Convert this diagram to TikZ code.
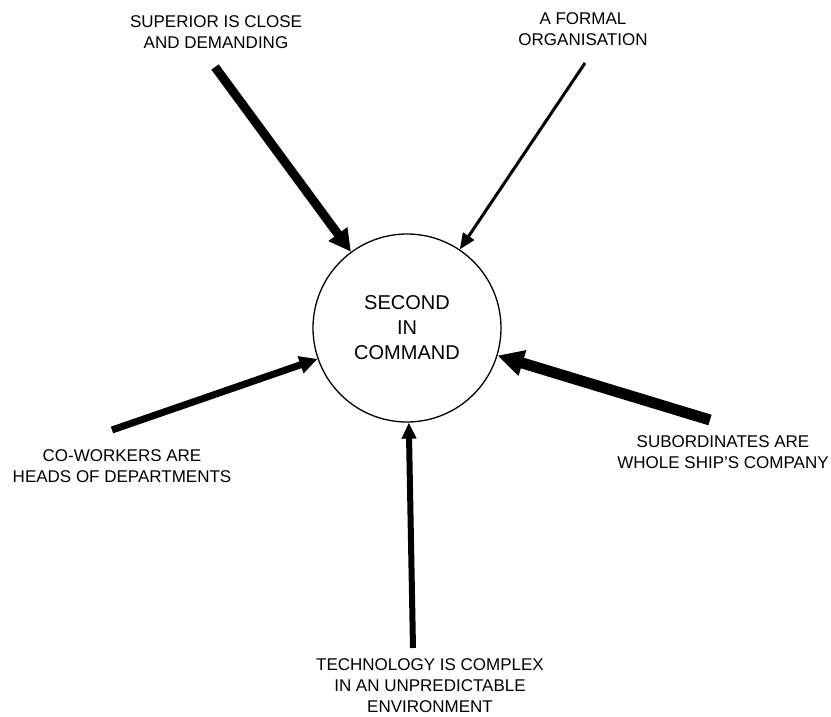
\documentclass[tikz,border=0pt]{standalone}
\usepackage{fontspec}
\setmainfont{Liberation Sans}
\usetikzlibrary{arrows.meta, positioning}
\tikzset{
	lbl/.style={align=center, inner sep=0pt, font=\fontsize{17}{21}\selectfont},
	hub/.style={circle, draw, line width=1.3pt, minimum size=188pt, inner sep=0pt, align=center, font=\fontsize{20}{25}\selectfont}
}

\begin{document}
\begin{tikzpicture}[x=1pt, y=-1pt]
		\useasboundingbox (0,0) rectangle (831,717);
		\node[hub] (sic) at (407,328) {SECOND\\IN\\COMMAND};
		\node[lbl] (suplbl) at (216,32) {SUPERIOR IS CLOSE\\AND DEMANDING};
		\node[lbl] (formlbl) at (583,29) {A FORMAL\\ORGANISATION};
		\node[lbl] (cowlbl) at (122,466) {CO-WORKERS ARE\\HEADS OF DEPARTMENTS};
		\node[lbl] (sublbl) at (723,452) {SUBORDINATES ARE\\WHOLE SHIP'S COMPANY};
		\node[lbl] (techlbl) at (430,686) {TECHNOLOGY IS COMPLEX\\IN AN UNPREDICTABLE\\ENVIRONMENT};
		\coordinate (sup) at (215,67);
		\coordinate (form) at (585,63);
		\coordinate (cow) at (112,430);
		\coordinate (sub) at (710,420);
		\coordinate (tech) at (413,648);
		\foreach \from/\lw/\hl/\hw in {sup/9/22/22, form/3/16/13, cow/7/18/17, sub/11/26/25, tech/6/16/14}
			\draw[line width=\lw pt, -{Triangle[length=\hl pt, width=\hw pt]}] (\from) -- (sic);
	\end{tikzpicture}
\end{document}
